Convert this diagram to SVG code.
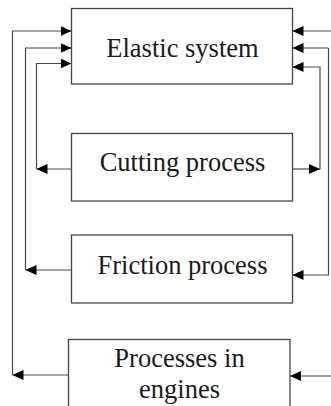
<svg xmlns="http://www.w3.org/2000/svg" width="331" height="406" viewBox="0 0 331 406">
  <style>
    .box { fill: #ffffff; stroke: #444444; stroke-width: 1.3; }
    .label { font-family: "Liberation Serif", "Times New Roman", serif; font-size: 26.5px; fill: #1a1a1a; text-anchor: middle; }
    .wire { fill: none; stroke: #4a4a4a; stroke-width: 1.2; }
  </style>
  <defs>
    <marker id="arrow" viewBox="0 0 11 10" refX="11" refY="5" markerWidth="11" markerHeight="10" markerUnits="userSpaceOnUse" orient="auto">
      <path d="M0,0 L11,5 L0,10 z" fill="#000000"/>
    </marker>
  </defs>
  <rect width="331" height="406" fill="#ffffff"/>

  <g id="connectors">
    <!-- left side: feedback into the elastic system -->
    <path class="wire" d="M68.5,375 H12.5" marker-end="url(#arrow)"/>
    <path class="wire" d="M12.5,375 V31 H71.5" marker-end="url(#arrow)"/>
    <path class="wire" d="M71.5,270 H25.5" marker-end="url(#arrow)"/>
    <path class="wire" d="M25.5,270 V48 H71.5" marker-end="url(#arrow)"/>
    <path class="wire" d="M71.5,169 H36.5" marker-end="url(#arrow)"/>
    <path class="wire" d="M36.5,169 V63.5 H71.5" marker-end="url(#arrow)"/>
    <!-- right side -->
    <path class="wire" d="M331,31 H292.5" marker-end="url(#arrow)"/>
    <path class="wire" d="M328.5,48 H292.5" marker-end="url(#arrow)"/>
    <path class="wire" d="M328.5,48 V275 H292.5" marker-end="url(#arrow)"/>
    <path class="wire" d="M292.5,169 H320" marker-end="url(#arrow)"/>
    <path class="wire" d="M320,169 V67 H292.5" marker-end="url(#arrow)"/>
    <path class="wire" d="M331,376 H290" marker-end="url(#arrow)"/>
  </g>

  <g id="elastic-system">
    <rect class="box" x="71.5" y="8.5" width="221" height="75.5"/>
    <text class="label" x="182.5" y="57">Elastic system</text>
  </g>
  <g id="cutting-process">
    <rect class="box" x="71.5" y="133.5" width="221" height="67.5"/>
    <text class="label" x="182.5" y="171">Cutting process</text>
  </g>
  <g id="friction-process">
    <rect class="box" x="71.5" y="235" width="221" height="68"/>
    <text class="label" x="182.5" y="274">Friction process</text>
  </g>
  <g id="engine-processes">
    <rect class="box" x="68.5" y="339.5" width="221.5" height="80"/>
    <text class="label" x="179.5" y="366.5">Processes in</text>
    <text class="label" x="179.5" y="398">engines</text>
  </g>
</svg>
